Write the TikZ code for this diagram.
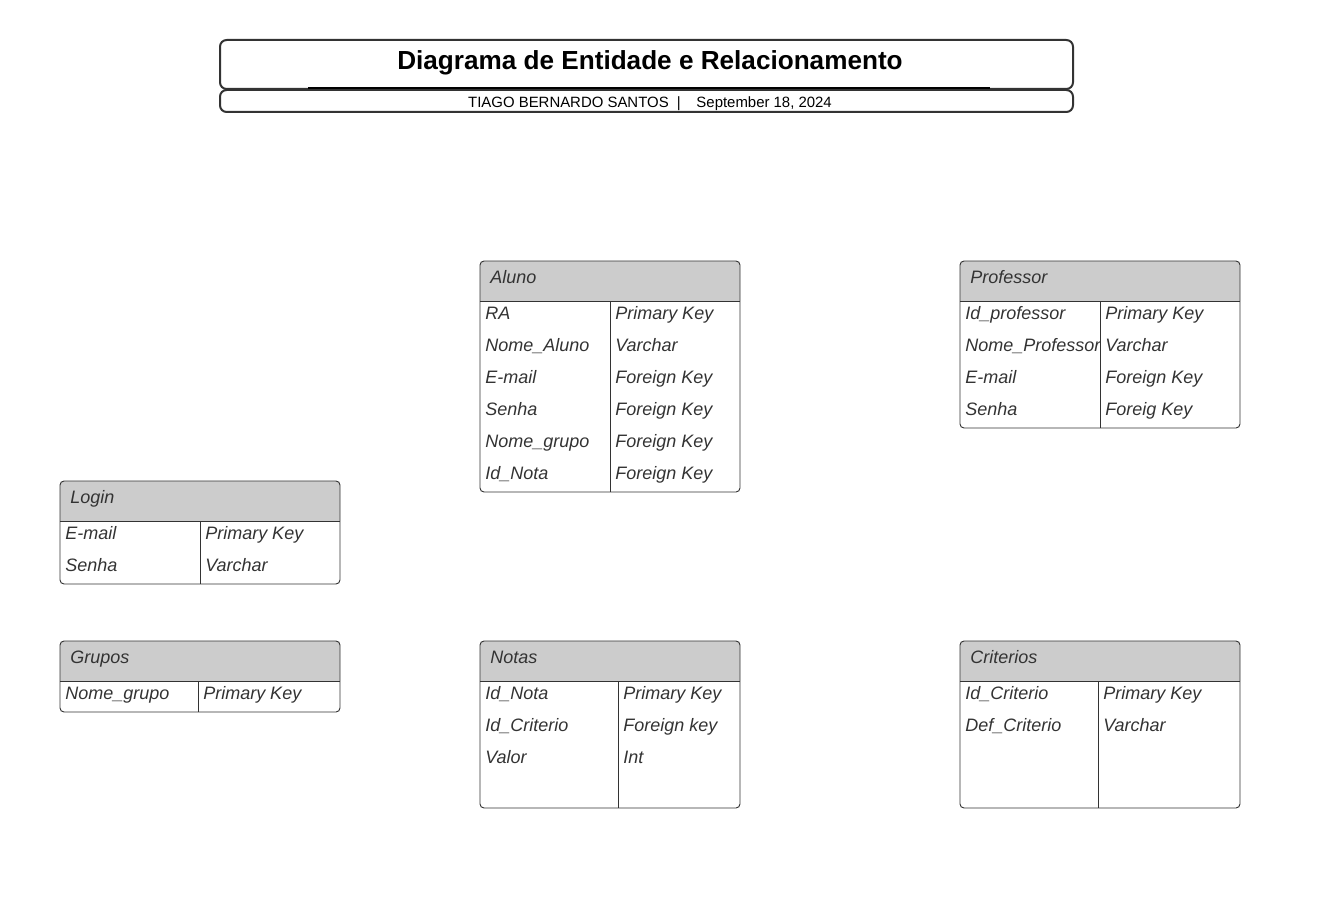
\documentclass[tikz,border=0pt]{standalone}
\usepackage{fontspec}
\setmainfont{Liberation Sans}
\definecolor{headgray}{HTML}{CCCCCC}
\definecolor{linegray}{HTML}{333333}
\definecolor{txtgray}{HTML}{333333}

% Entity table frame: #1 name, #2 left, #3 top, #4 right, #5 bottom, #6 column divider x, #7 title
\newcommand\entitybox[7]{%
  \fill[headgray] (#2,#3+40) [rounded corners=3pt] -- (#2,#3) -- (#4,#3) [sharp corners] -- (#4,#3+40) -- cycle;
  \draw[frame, rounded corners=3pt] (#2,#3) rectangle (#4,#5);
  \draw[frame] (#2,#3+40) -- (#4,#3+40);
  \draw[frame] (#6,#3+40) -- (#6,#5);
  \node[cell] (#1-title) at (#2+10,#3+22.5) {#7};
}
% One attribute row: #1 node name, #2 left text x, #3 right text x, #4 baseline y, #5 attribute, #6 type
\newcommand\entityrow[6]{%
  \node[cell] (#1-a) at (#2,#4) {#5};
  \node[cell] (#1-b) at (#3,#4) {#6};
}

\begin{document}
\begin{tikzpicture}[x=0.75pt,y=-0.75pt,
  frame/.style={draw=linegray, line width=0.7pt},
  cell/.style={anchor=base west, inner sep=0pt, text=txtgray,
    font=\fontsize{13.5}{16}\selectfont\itshape},
  titlebox/.style={draw=linegray, line width=1.5pt, rounded corners=5pt}]
\useasboundingbox (0,0) rectangle (1340,917);

% Title block
\draw[titlebox] (220,40) rectangle (1073,89);
\draw[titlebox] (220,90) rectangle (1073,112);
\draw[line width=1.5pt, black] (308,88) -- (990,88);
\node[font=\fontsize{19.6}{23}\selectfont\bfseries, inner sep=0pt] (title) at (650,62.5) {Diagrama de Entidade e Relacionamento};
\node[font=\fontsize{11.2}{13}\selectfont, inner sep=0pt] (subtitle) at (650,104)
  {TIAGO BERNARDO SANTOS\hspace{0.55em}|\hspace{1.05em}September 18, 2024};

% Aluno
\entitybox{aluno}{480}{261}{740}{492}{610}{Aluno}
\entityrow{aluno-r1}{485}{615}{319.5}{RA}{Primary Key}
\entityrow{aluno-r2}{485}{615}{351.5}{Nome\_Aluno}{Varchar}
\entityrow{aluno-r3}{485}{615}{383.5}{E-mail}{Foreign Key}
\entityrow{aluno-r4}{485}{615}{415.5}{Senha}{Foreign Key}
\entityrow{aluno-r5}{485}{615}{447.5}{Nome\_grupo}{Foreign Key}
\entityrow{aluno-r6}{485}{615}{479.5}{Id\_Nota}{Foreign Key}

% Professor
\entitybox{prof}{960}{261}{1240}{428}{1100}{Professor}
\entityrow{prof-r1}{965}{1105}{319.5}{Id\_professor}{Primary Key}
\entityrow{prof-r2}{965}{1105}{351.5}{Nome\_Professor}{Varchar}
\entityrow{prof-r3}{965}{1105}{383.5}{E-mail}{Foreign Key}
\entityrow{prof-r4}{965}{1105}{415.5}{Senha}{Foreig Key}

% Login
\entitybox{login}{60}{481}{340}{584}{200}{Login}
\entityrow{login-r1}{65}{205}{539.5}{E-mail}{Primary Key}
\entityrow{login-r2}{65}{205}{571.5}{Senha}{Varchar}

% Grupos
\entitybox{grupos}{60}{641}{340}{712}{198}{Grupos}
\entityrow{grupos-r1}{65}{203}{699.5}{Nome\_grupo}{Primary Key}

% Notas
\entitybox{notas}{480}{641}{740}{808}{618}{Notas}
\entityrow{notas-r1}{485}{623}{699.5}{Id\_Nota}{Primary Key}
\entityrow{notas-r2}{485}{623}{731.5}{Id\_Criterio}{Foreign key}
\entityrow{notas-r3}{485}{623}{763.5}{Valor}{Int}

% Criterios
\entitybox{crit}{960}{641}{1240}{808}{1098}{Criterios}
\entityrow{crit-r1}{965}{1103}{699.5}{Id\_Criterio}{Primary Key}
\entityrow{crit-r2}{965}{1103}{731.5}{Def\_Criterio}{Varchar}
\end{tikzpicture}
\end{document}
